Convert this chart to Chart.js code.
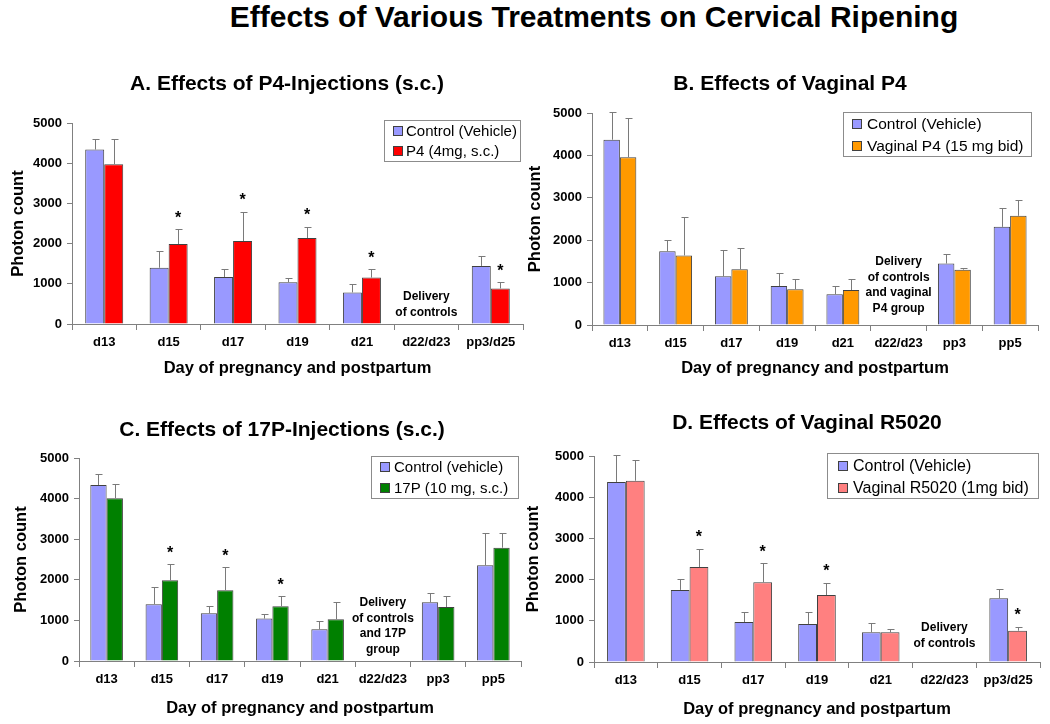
<!DOCTYPE html>
<html>
<head>
<meta charset="utf-8">
<script src="https://cdn.jsdelivr.net/npm/chart.js@4.4.1/dist/chart.umd.min.js"></script>
<style>
html, body { margin: 0; padding: 0; background: #fff; overflow: hidden; }
#wrap { position: relative; width: 1050px; height: 724px; }
#wrap canvas { position: absolute; left: 0; top: 0; }
#mainTitle {
    position: absolute; left: 94px; width: 1000px; top: 2px;
    text-align: center; white-space: nowrap;
    font: bold 30px "Liberation Sans", Arial, sans-serif; line-height: 30px; color: #000;
}
</style>
</head>
<body>
<div id="wrap">
    <div id="mainTitle">Effects of Various Treatments on Cervical Ripening</div>
    <canvas id="chartA" width="1050" height="724"></canvas>
    <canvas id="chartB" width="1050" height="724"></canvas>
    <canvas id="chartC" width="1050" height="724"></canvas>
    <canvas id="chartD" width="1050" height="724"></canvas>
</div>
<script>
// tick values on the y axis (same on all panels)
const yTicks = [0, 1000, 2000, 3000, 4000, 5000];

// A. P4 injections
const catsA = ['d13', 'd15', 'd17', 'd19', 'd21', 'd22/d23', 'pp3/d25'];
const ctrlA = [4340, 1400, 1170, 1040, 785, null, 1445];
const ctrlErrA = [4600, 1825, 1365, 1150, 985, null, 1680];
const p4A = [3975, 1990, 2065, 2140, 1155, null, 885];
const p4ErrA = [4600, 2355, 2795, 2420, 1365, null, 1040];
const starsA = [1, 2, 3, 4, 6];
const noteA = ['Delivery', 'of controls'];

// B. vaginal P4
const catsB = ['d13', 'd15', 'd17', 'd19', 'd21', 'd22/d23', 'pp3', 'pp5'];
const ctrlB = [4370, 1740, 1150, 920, 725, null, 1450, 2315];
const ctrlErrB = [5025, 2010, 1780, 1220, 930, null, 1670, 2755];
const vagB = [3955, 1640, 1315, 845, 825, null, 1305, 2575];
const vagErrB = [4875, 2545, 1810, 1095, 1080, null, 1340, 2955];
const starsB = [];
const noteB = ['Delivery', 'of controls', 'and vaginal', 'P4 group'];

// C. 17P injections
const catsC = ['d13', 'd15', 'd17', 'd19', 'd21', 'd22/d23', 'pp3', 'pp5'];
const ctrlC = [4335, 1400, 1175, 1045, 780, null, 1445, 2360];
const ctrlErrC = [4605, 1815, 1365, 1150, 980, null, 1670, 3150];
const p17C = [4010, 1990, 1745, 1350, 1030, null, 1330, 2790];
const p17ErrC = [4360, 2385, 2305, 1590, 1445, null, 1590, 3165];
const starsC = [1, 2, 3];
const noteC = ['Delivery', 'of controls', 'and 17P', 'group'];

// D. vaginal R5020
const catsD = ['d13', 'd15', 'd17', 'd19', 'd21', 'd22/d23', 'pp3/d25'];
const ctrlD = [4370, 1750, 970, 920, 720, null, 1545];
const ctrlErrD = [5025, 2015, 1205, 1220, 940, null, 1765];
const r5020D = [4400, 2305, 1935, 1625, 720, null, 760];
const r5020ErrD = [4905, 2750, 2395, 1925, 810, null, 860];
const starsD = [1, 2, 3, 6];
const noteD = ['Delivery', 'of controls'];

const FONT = '"Liberation Sans", Arial, sans-serif';
const AXIS_GRAY = '#808080';
const TITLE_SIZE = 16.5;
const TITLE_LH = TITLE_SIZE * 1.2;

// draws panel title, error bars, stars, notes and boxed legend
const panelDecor = {
    id: 'panelDecor',
    afterDatasetsDraw(chart, args, o) {
        const ctx = chart.ctx;
        const xs = chart.scales.x, ys = chart.scales.y;
        ctx.save();

        // error bars (upper only)
        ctx.strokeStyle = '#7a7a7a';
        ctx.lineWidth = 1;
        o.errors.forEach((errs, di) => {
            const meta = chart.getDatasetMeta(di);
            meta.data.forEach((bar, i) => {
                if (errs[i] == null || chart.data.datasets[di].data[i] == null) return;
                const bx = Math.round(bar.x) + 0.5;
                const py = Math.round(ys.getPixelForValue(errs[i])) + 0.5;
                ctx.beginPath();
                ctx.moveTo(bx, bar.y);
                ctx.lineTo(bx, py);
                ctx.moveTo(bx - 3, py);
                ctx.lineTo(bx + 4, py);
                ctx.stroke();
            });
        });

        // significance stars over the treatment bars
        ctx.fillStyle = '#000';
        ctx.font = 'bold 16px ' + FONT;
        ctx.textAlign = 'center';
        ctx.textBaseline = 'middle';
        const tMeta = chart.getDatasetMeta(1);
        o.stars.forEach(i => {
            const py = ys.getPixelForValue(o.errors[1][i]);
            ctx.fillText('*', tMeta.data[i].x, py - 11);
        });

        // delivery note in the empty category
        ctx.font = 'bold 12px ' + FONT;
        const nx = xs.getPixelForValue(o.noteIndex);
        o.note.forEach((line, k) => ctx.fillText(line, nx, o.noteY + k * 15.5));

        // panel title
        ctx.font = 'bold 21px ' + FONT;
        ctx.fillText(o.title, o.titleX, o.titleY);

        // legend box
        const lg = o.legend;
        ctx.strokeStyle = '#8c8c8c';
        ctx.fillStyle = '#fff';
        ctx.fillRect(lg.box[0], lg.box[1], lg.box[2] - lg.box[0], lg.box[3] - lg.box[1]);
        ctx.strokeRect(lg.box[0] + 0.5, lg.box[1] + 0.5, lg.box[2] - lg.box[0], lg.box[3] - lg.box[1]);
        ctx.font = lg.size + 'px ' + FONT;
        ctx.textAlign = 'left';
        chart.data.datasets.forEach((ds, k) => {
            const ry = lg.rows[k];
            ctx.fillStyle = ds.backgroundColor;
            ctx.fillRect(lg.sw, ry - 5, 10, 10);
            ctx.strokeStyle = '#404040';
            ctx.strokeRect(lg.sw + 0.5, ry - 4.5, 9, 9);
            ctx.fillStyle = '#000';
            ctx.fillText(ds.label, lg.tx, ry + 1);
        });
        ctx.restore();
    }
};

function makePanel(id, cats, ctrl, ctrlErr, trt, trtErr, stars, note, ctrlLabel, trtLabel, trtColor, L) {
    const yw = L.left - L.yTitleX + TITLE_LH / 2 + 2;
    const xh = L.xTitleY - L.bottom + TITLE_LH / 2 + 2;
    return new Chart(document.getElementById(id), {
        type: 'bar',
        data: {
            labels: cats,
            datasets: [
                {
                    label: ctrlLabel,
                    data: ctrl,
                    backgroundColor: '#9999FF',
                    borderColor: '#404040',
                    borderWidth: 1
                },
                {
                    label: trtLabel,
                    data: trt,
                    backgroundColor: trtColor,
                    borderColor: '#404040',
                    borderWidth: 1
                }
            ]
        },
        options: {
            responsive: false,
            animation: false,
            events: [],
            barPercentage: 1,
            categoryPercentage: 0.59,
            layout: {
                padding: {
                    left: L.left - yw,
                    top: L.top,
                    right: 1050 - L.right,
                    bottom: 724 - L.bottom - xh
                }
            },
            plugins: {
                legend: { display: false },
                tooltip: { enabled: false },
                panelDecor: {
                    errors: [ctrlErr, trtErr],
                    stars: stars,
                    note: note,
                    noteIndex: cats.indexOf('d22/d23'),
                    noteY: L.noteY,
                    title: L.title,
                    titleX: L.titleX,
                    titleY: L.titleY,
                    legend: L.legend
                }
            },
            scales: {
                x: {
                    afterFit: s => { s.height = xh; },
                    border: { color: AXIS_GRAY },
                    grid: { drawOnChartArea: false, offset: true, tickLength: 6, color: AXIS_GRAY },
                    ticks: {
                        autoSkip: false, maxRotation: 0, padding: 5, color: '#000',
                        font: { family: FONT, size: 13, weight: 'bold' }
                    },
                    title: {
                        display: true, text: 'Day of pregnancy and postpartum', color: '#000',
                        padding: { top: 2, bottom: 2 },
                        font: { family: FONT, size: TITLE_SIZE, weight: 'bold' }
                    }
                },
                y: {
                    min: yTicks[0],
                    max: yTicks[yTicks.length - 1],
                    afterFit: s => { s.width = yw; },
                    afterBuildTicks: s => { s.ticks = yTicks.map(v => ({ value: v })); },
                    border: { color: AXIS_GRAY },
                    grid: { drawOnChartArea: false, tickLength: 5, color: AXIS_GRAY },
                    ticks: {
                        padding: 5, color: '#000',
                        callback: v => String(v),
                        font: { family: FONT, size: 13, weight: 'bold' }
                    },
                    title: {
                        display: true, text: 'Photon count', color: '#000',
                        padding: { top: 2, bottom: 2 },
                        font: { family: FONT, size: TITLE_SIZE, weight: 'bold' }
                    }
                }
            }
        },
        plugins: [panelDecor]
    });
}

makePanel('chartA', catsA, ctrlA, ctrlErrA, p4A, p4ErrA, starsA, noteA,
    'Control (Vehicle)', 'P4 (4mg, s.c.)', '#FF0000', {
        left: 72, right: 523, top: 123, bottom: 324,
        yTitleX: 18, xTitleY: 368, noteY: 297,
        title: 'A. Effects of P4-Injections (s.c.)', titleX: 287, titleY: 84,
        legend: { box: [384, 120, 520, 161], rows: [131, 151], sw: 393, tx: 406, size: 15 }
    });

makePanel('chartB', catsB, ctrlB, ctrlErrB, vagB, vagErrB, starsB, noteB,
    'Control (Vehicle)', 'Vaginal P4 (15 mg bid)', '#FF9900', {
        left: 592, right: 1038, top: 113, bottom: 325,
        yTitleX: 535, xTitleY: 368, noteY: 262,
        title: 'B. Effects of Vaginal P4', titleX: 790, titleY: 84,
        legend: { box: [843, 112, 1031, 156], rows: [124, 146], sw: 852, tx: 867, size: 15.5 }
    });

makePanel('chartC', catsC, ctrlC, ctrlErrC, p17C, p17ErrC, starsC, noteC,
    'Control (vehicle)', '17P (10 mg, s.c.)', '#008000', {
        left: 79, right: 521, top: 458, bottom: 661,
        yTitleX: 21, xTitleY: 708, noteY: 603,
        title: 'C. Effects of 17P-Injections (s.c.)', titleX: 282, titleY: 430,
        legend: { box: [371, 456, 518, 498], rows: [467, 488], sw: 380, tx: 394, size: 15 }
    });

makePanel('chartD', catsD, ctrlD, ctrlErrD, r5020D, r5020ErrD, starsD, noteD,
    'Control (Vehicle)', 'Vaginal R5020 (1mg bid)', '#FF8080', {
        left: 594, right: 1040, top: 456, bottom: 662,
        yTitleX: 533, xTitleY: 709, noteY: 628,
        title: 'D. Effects of Vaginal R5020', titleX: 807, titleY: 423,
        legend: { box: [827, 453, 1038, 498], rows: [466, 488], sw: 838, tx: 853, size: 16 }
    });
</script>
</body>
</html>
